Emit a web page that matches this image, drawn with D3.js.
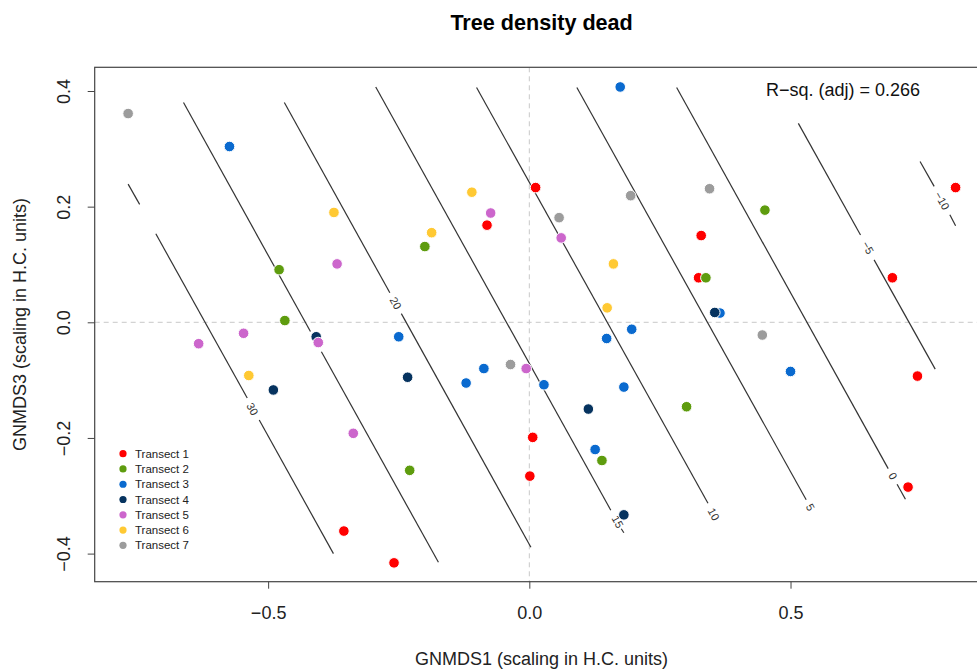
<!DOCTYPE html>
<html>
<head>
<meta charset="utf-8">
<script src="https://cdn.jsdelivr.net/npm/d3@7"></script>
<style>
  html, body { margin: 0; padding: 0; background: #fff; }
  svg { display: block; font-family: "Liberation Sans", Arial, sans-serif; }
</style>
</head>
<body>
<svg id="chart" width="977" height="669"></svg>
<script>
// ---------------- data ----------------
const chartTitle = "Tree density dead";
const xLabel = "GNMDS1 (scaling in H.C. units)";
const yLabel = "GNMDS3 (scaling in H.C. units)";
const rsqText = "R\u2212sq. (adj) = 0.266";
const xTicks = [-0.5, 0.0, 0.5];
const yTicks = [-0.4, -0.2, 0.0, 0.2, 0.4];

const transectNames = ["Transect 1","Transect 2","Transect 3","Transect 4","Transect 5","Transect 6","Transect 7"];
const transectColors = ["#FF0000","#5E9C0E","#0A6ACF","#06335F","#CC66CC","#FFC933","#9C9C9C"];

const transect1 = [[0.012,0.233],[-0.081,0.168],[0.816,0.233],[0.329,0.150],[0.324,0.077],[0.695,0.077],
                   [0.743,-0.093],[0.725,-0.285],[0.0065,-0.199],[0.001,-0.266],[-0.355,-0.361],[-0.259,-0.416]];
const transect2 = [[-0.479,0.091],[-0.468,0.003],[-0.200,0.131],[0.451,0.194],[0.338,0.077],[0.301,-0.146],
                   [0.139,-0.239],[-0.229,-0.256]];
const transect3 = [[-0.574,0.304],[0.174,0.407],[0.365,0.016],[0.500,-0.085],[-0.250,-0.025],[-0.121,-0.105],
                   [-0.087,-0.080],[0.028,-0.108],[0.148,-0.028],[0.196,-0.012],[0.181,-0.112],[0.126,-0.220]];
const transect4 = [[0.355,0.017],[-0.408,-0.025],[-0.490,-0.117],[-0.233,-0.095],[0.113,-0.150],[0.181,-0.333]];
const transect5 = [[-0.368,0.101],[-0.074,0.189],[0.061,0.146],[-0.547,-0.019],[-0.633,-0.037],[-0.404,-0.035],
                   [-0.337,-0.192],[-0.006,-0.080]];
const transect6 = [[-0.374,0.190],[-0.110,0.225],[-0.187,0.155],[0.161,0.101],[0.149,0.025],[-0.537,-0.092]];
const transect7 = [[-0.768,0.361],[0.194,0.219],[0.057,0.181],[0.345,0.231],[0.446,-0.022],[-0.036,-0.073]];
const transects = [transect1, transect2, transect3, transect4, transect5, transect6, transect7];

// fitted surface contour lines (data coordinates), pieces between label gaps
const contourSegments = [
  {level: 30,  pts: [[-0.768,0.239],[-0.746,0.204]]},
  {level: 30,  pts: [[-0.715,0.153],[-0.540,-0.131]]},
  {level: 30,  pts: [[-0.517,-0.169],[-0.375,-0.400]]},
  {level: 25,  pts: [[-0.662,0.380],[-0.419,-0.016]]},
  {level: 25,  pts: [[-0.398,-0.051],[-0.174,-0.415]]},
  {level: 20,  pts: [[-0.469,0.380],[-0.267,0.051]]},
  {level: 20,  pts: [[-0.245,0.015],[0.003,-0.389]]},
  {level: 15,  pts: [[-0.294,0.407],[0.156,-0.325]]},
  {level: 15,  pts: [[0.176,-0.357],[0.181,-0.364]]},
  {level: 10,  pts: [[-0.101,0.406],[0.342,-0.313]]},
  {level: 5,   pts: [[0.091,0.406],[0.530,-0.307]]},
  {level: 0,   pts: [[0.282,0.406],[0.687,-0.253]]},
  {level: 0,   pts: [[0.704,-0.280],[0.720,-0.306]]},
  {level: -5,  pts: [[0.515,0.344],[0.634,0.151]]},
  {level: -5,  pts: [[0.660,0.108],[0.777,-0.081]]},
  {level: -10, pts: [[0.748,0.278],[0.775,0.235]]},
  {level: -10, pts: [[0.805,0.186],[0.816,0.167]]}
];
const contourLabels = [
  {level: 30,  x: -0.530, y: -0.150},
  {level: 20,  x: -0.256, y: 0.033},
  {level: 15,  x: 0.169,  y: -0.345},
  {level: 10,  x: 0.353,  y: -0.332},
  {level: 5,   x: 0.538,  y: -0.320},
  {level: 0,   x: 0.696,  y: -0.266},
  {level: -5,  x: 0.648,  y: 0.129},
  {level: -10, x: 0.790,  y: 0.210}
];

// ---------------- layout ----------------
const svg = d3.select("#chart");
const plot = {left: 94.7, top: 67.3, right: 988.5, bottom: 581.7};

const x = d3.scaleLinear().domain([-0.832, 0.879]).range([plot.left, plot.right]);
const y = d3.scaleLinear().domain([-0.4486, 0.441]).range([plot.bottom, plot.top]);
const cx = (plot.left + plot.right) / 2;
const cy = (plot.top + plot.bottom) / 2;

const defs = svg.append("defs");
defs.append("clipPath").attr("id", "clip")
  .append("rect").attr("x", plot.left).attr("y", plot.top)
  .attr("width", plot.right - plot.left).attr("height", plot.bottom - plot.top);

// title
svg.append("text").attr("x", cx).attr("y", 30)
  .attr("text-anchor", "middle").attr("font-size", 21.6).attr("font-weight", "bold")
  .attr("fill", "#000").text(chartTitle);

const g = svg.append("g").attr("clip-path", "url(#clip)");

// reference dashed lines
g.append("line").attr("x1", x(0)).attr("x2", x(0)).attr("y1", plot.top).attr("y2", plot.bottom)
  .attr("stroke", "#c8c8c8").attr("stroke-dasharray", "5,4").attr("stroke-width", 1);
g.append("line").attr("x1", plot.left).attr("x2", plot.right).attr("y1", y(0)).attr("y2", y(0))
  .attr("stroke", "#c8c8c8").attr("stroke-dasharray", "5,4").attr("stroke-width", 1);

// contour lines
const line = d3.line().x(d => x(d[0])).y(d => y(d[1]));
g.selectAll("path.contour").data(contourSegments).join("path")
  .attr("class", "contour")
  .attr("d", d => line(d.pts))
  .attr("fill", "none").attr("stroke", "#333").attr("stroke-width", 1.2);

// contour labels, rotated along the line direction
const seg0 = contourSegments[1].pts;
const angle = Math.atan2(y(seg0[1][1]) - y(seg0[0][1]), x(seg0[1][0]) - x(seg0[0][0])) * 180 / Math.PI;
g.selectAll("text.clab").data(contourLabels).join("text")
  .attr("class", "clab")
  .attr("transform", d => `translate(${x(d.x)},${y(d.y)}) rotate(${angle})`)
  .attr("text-anchor", "middle").attr("dy", "0.35em")
  .attr("font-size", 11).attr("fill", "#333")
  .text(d => d.level < 0 ? "\u2212" + Math.abs(d.level) : d.level);

// points
transects.forEach((pts, i) => {
  g.selectAll(null).data(pts).join("circle")
    .attr("cx", d => x(d[0])).attr("cy", d => y(d[1])).attr("r", 5.3)
    .attr("fill", transectColors[i]).attr("stroke", "#fff").attr("stroke-width", 1);
});

// box
svg.append("rect").attr("x", plot.left).attr("y", plot.top)
  .attr("width", plot.right - plot.left).attr("height", plot.bottom - plot.top)
  .attr("fill", "none").attr("stroke", "#444").attr("stroke-width", 1.2);

// axes
const fmt = d3.format(".1f");
const xAxis = svg.append("g").attr("transform", `translate(0,${plot.bottom})`)
  .call(d3.axisBottom(x).tickValues(xTicks).tickFormat(fmt).tickSize(7).tickSizeOuter(0));
xAxis.select(".domain").remove();
xAxis.selectAll(".tick line").attr("stroke", "#444");
xAxis.selectAll(".tick text").attr("y", 37).attr("dy", 0)
  .attr("font-size", 18).attr("fill", "#222").attr("font-family", "Liberation Sans, Arial, sans-serif");

const yAxis = svg.append("g").attr("transform", `translate(${plot.left},0)`)
  .call(d3.axisLeft(y).tickValues(yTicks).tickFormat(fmt).tickSize(7).tickSizeOuter(0));
yAxis.select(".domain").remove();
yAxis.selectAll(".tick line").attr("stroke", "#444");
yAxis.selectAll(".tick text")
  .attr("transform", "rotate(-90)").attr("x", 0).attr("y", -25).attr("dy", 0)
  .attr("text-anchor", "middle")
  .attr("font-size", 18).attr("fill", "#222").attr("font-family", "Liberation Sans, Arial, sans-serif");

// axis titles
svg.append("text").attr("x", cx).attr("y", 665)
  .attr("text-anchor", "middle").attr("font-size", 18).attr("fill", "#222").text(xLabel);
svg.append("text").attr("transform", `translate(26,${cy}) rotate(-90)`)
  .attr("text-anchor", "middle").attr("font-size", 18).attr("fill", "#222").text(yLabel);

// R-squared annotation
svg.append("text").attr("x", 766).attr("y", 96).attr("font-size", 18).attr("fill", "#111").text(rsqText);

// legend
const legend = svg.append("g").attr("transform", "translate(123,453.7)");
const items = legend.selectAll("g").data(transectNames).join("g")
  .attr("transform", (d, i) => `translate(0,${i * 15.27})`);
items.append("circle").attr("r", 3.6).attr("fill", (d, i) => transectColors[i]);
items.append("text").attr("x", 12).attr("dy", "0.35em").attr("font-size", 11.5).attr("fill", "#222").text(d => d);
</script>
</body>
</html>
